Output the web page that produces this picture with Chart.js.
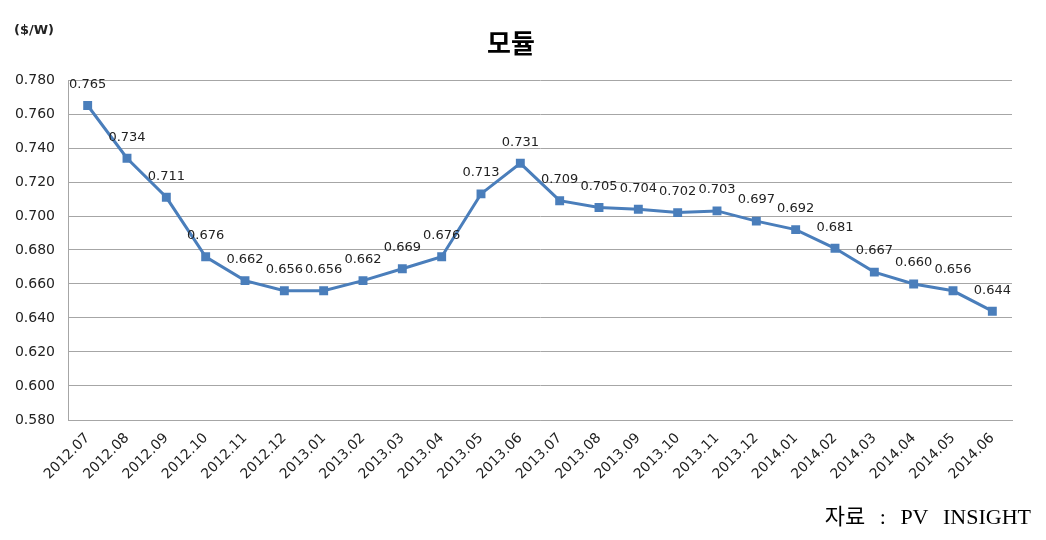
<!DOCTYPE html>
<html>
<head>
<meta charset="utf-8">
<script src="https://cdn.jsdelivr.net/npm/chart.js@4/dist/chart.umd.min.js"></script>
<style>
html,body{margin:0;padding:0;background:#fff;}
#wrap{width:1046px;height:540px;position:relative;}
</style>
</head>
<body>
<div id="wrap"><canvas id="c" width="1046" height="540"></canvas></div>
<script>
const categories = ["2012.07","2012.08","2012.09","2012.10","2012.11","2012.12","2013.01","2013.02","2013.03","2013.04","2013.05","2013.06","2013.07","2013.08","2013.09","2013.10","2013.11","2013.12","2014.01","2014.02","2014.03","2014.04","2014.05","2014.06"];
const moduleValues = [0.765,0.734,0.711,0.676,0.662,0.656,0.656,0.662,0.669,0.676,0.713,0.731,0.709,0.705,0.704,0.702,0.703,0.697,0.692,0.681,0.667,0.660,0.656,0.644];
const titleText = "모듈";
const unitText = "($/W)";
const sourceText = "자료 : PV INSIGHT";
const yMin = 0.58, yMax = 0.78, yStep = 0.02;

const textPlugin = {
  id: 'texts',
  afterDatasetsDraw(chart) {
    const ctx = chart.ctx;
    ctx.save();
    const meta = chart.getDatasetMeta(0);
    ctx.fillStyle = '#222';
    ctx.font = '13px "DejaVu Sans"';
    ctx.textAlign = 'center';
    ctx.textBaseline = 'middle';
    meta.data.forEach((pt, i) => {
      ctx.fillText(moduleValues[i].toFixed(3), pt.x, pt.y - 21);
    });
    ctx.fillStyle = '#000';
    ctx.font = 'bold 26px "Noto Sans CJK KR"';
    ctx.fillText(titleText, 511, 43);
    ctx.font = 'bold 13px "DejaVu Sans"';
    ctx.fillStyle = '#222';
    ctx.textAlign = 'left';
    ctx.fillText(unitText, 14, 31);
    ctx.fillStyle = '#000';
    ctx.font = '22px "Liberation Serif", "Noto Sans CJK KR"';
    ctx.textAlign = 'right';
    ctx.textBaseline = 'alphabetic';
    try { ctx.wordSpacing = '9px'; } catch (e) {}
    ctx.fillText(sourceText, 1031, 524);
    ctx.restore();
  }
};

new Chart(document.getElementById('c'), {
  type: 'line',
  data: {
    labels: categories,
    datasets: [{
      data: moduleValues,
      borderColor: '#4a7ebb',
      backgroundColor: '#4a7ebb',
      borderWidth: 3,
      pointStyle: 'rect',
      pointRadius: 6.3,
      pointBorderWidth: 0,
      tension: 0,
      fill: false
    }]
  },
  options: {
    responsive: false,
    animation: false,
    layout: { padding: { top: 80, right: 34, left: 0, bottom: 0 } },
    plugins: { legend: { display: false }, tooltip: { enabled: false }, title: { display: false } },
    scales: {
      x: {
        type: 'category',
        offset: true,
        grid: { display: false, drawTicks: false },
        border: { display: true, color: '#a6a6a6', width: 1 },
        ticks: {
          color: '#222',
          font: { family: 'DejaVu Sans', size: 14 },
          maxRotation: 45, minRotation: 45,
          autoSkip: false,
          padding: 10
        },
        afterFit(scale) { scale.height = 120; }
      },
      y: {
        min: yMin, max: yMax,
        grid: { color: '#a6a6a6', lineWidth: 1, drawTicks: false },
        border: { display: true, color: '#a6a6a6', width: 1 },
        ticks: {
          stepSize: yStep,
          color: '#222',
          font: { family: 'DejaVu Sans', size: 14 },
          padding: 13,
          callback: v => Number(v).toFixed(3)
        },
        afterFit(scale) { scale.width = 68; }
      }
    }
  },
  plugins: [textPlugin]
});
</script>
</body>
</html>
